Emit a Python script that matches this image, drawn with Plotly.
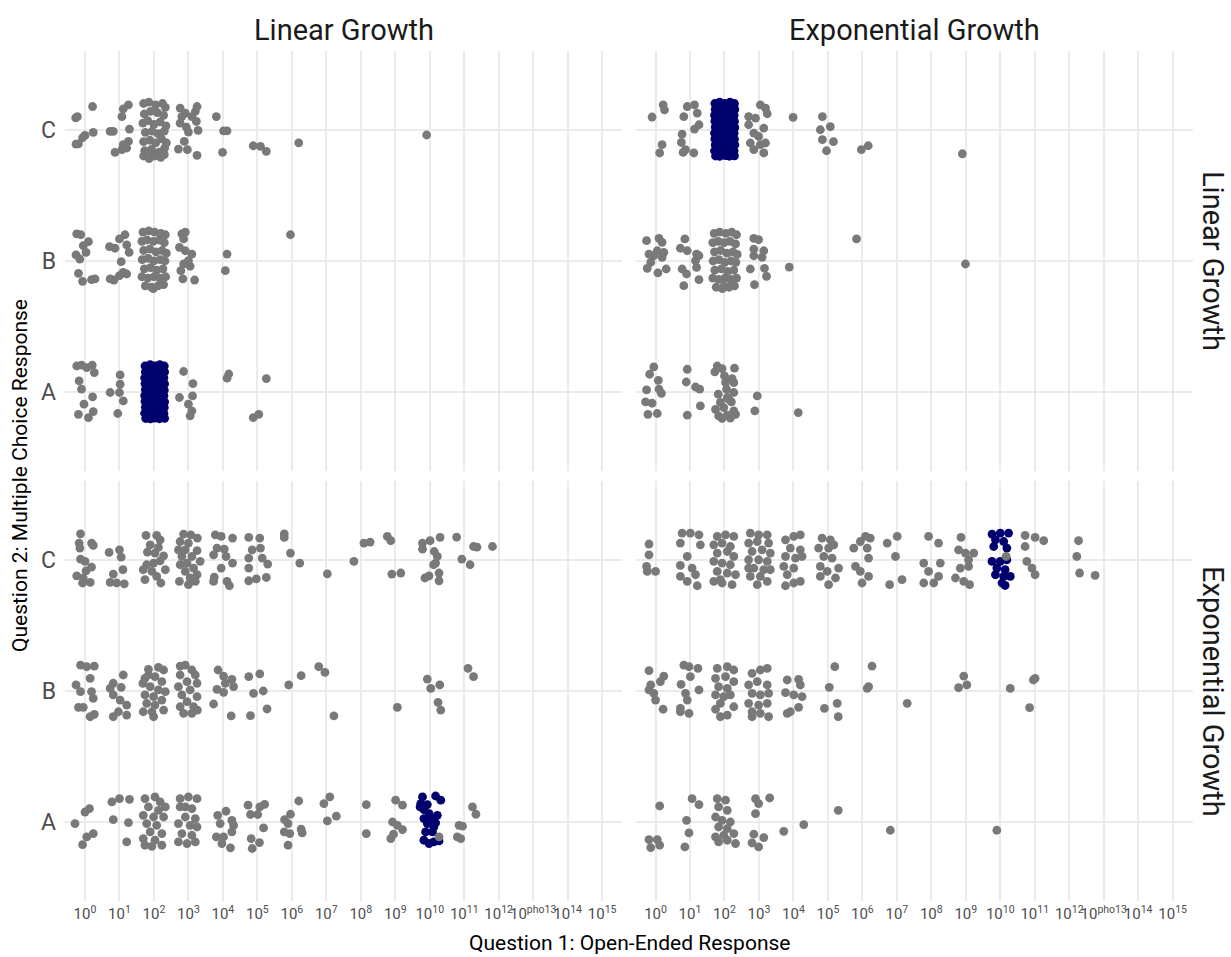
import plotly.graph_objects as go

# ---------------------------------------------------------------------------
# Data: each point is (log10 of the open-ended answer incl. jitter,
#                      multiple-choice position incl. jitter; A=1, B=2, C=3)
# Panels: rows = Question 2 scenario, columns = Question 1 scenario
# ---------------------------------------------------------------------------
categories = ["A", "B", "C"]
category_pos = [1, 2, 3]
exponents = list(range(16))
exponent_labels = ["10<sup>0</sup>", "10<sup>1</sup>", "10<sup>2</sup>", "10<sup>3</sup>",
                   "10<sup>4</sup>", "10<sup>5</sup>", "10<sup>6</sup>", "10<sup>7</sup>",
                   "10<sup>8</sup>", "10<sup>9</sup>", "10<sup>10</sup>", "10<sup>11</sup>",
                   "10<sup>12</sup>", "10<sup>pho13</sup>", "10<sup>14</sup>", "10<sup>15</sup>"]
col_strips = ["Linear Growth", "Exponential Growth"]
row_strips = ["Linear Growth", "Exponential Growth"]

# row Linear Growth, column Linear Growth
ll_other = [
    (-0.27, 3.09), (-0.22, 3.10), (0.22, 3.177), (0.0, 2.957), (-0.07, 2.939), (-0.19, 2.893), (-0.26, 2.89),
    (1.26, 3.19), (1.11, 3.158), (1.07, 3.10), (0.73, 2.987), (0.82, 2.987), (1.29, 3.005), (0.24, 2.98),
    (1.26, 2.911), (1.11, 2.886), (1.21, 2.861), (0.87, 2.827), (1.07, 2.848),
    (1.70, 3.20), (1.85, 3.21), (2.05, 3.19), (2.25, 3.20), (2.33, 3.17),
    (1.72, 3.12), (1.90, 3.14), (2.10, 3.13), (2.28, 3.11),
    (1.68, 3.05), (1.82, 3.07), (2.00, 3.04), (2.18, 3.06), (2.35, 3.03),
    (1.75, 2.98), (1.95, 2.99), (2.12, 2.97), (2.30, 2.99),
    (1.70, 2.91), (1.88, 2.92), (2.05, 2.90), (2.22, 2.93), (2.36, 2.90),
    (1.73, 2.84), (1.93, 2.85), (2.15, 2.83), (2.31, 2.86),
    (1.70, 2.80), (1.86, 2.78), (2.02, 2.80), (2.20, 2.79), (2.30, 2.81), (1.95, 2.82),
    (2.76, 3.165), (2.91, 3.127), (2.81, 3.10), (3.25, 3.177), (3.20, 3.139), (3.10, 3.10), (3.23, 3.063),
    (2.76, 3.05), (2.94, 3.02), (3.0, 2.982), (3.28, 2.995), (2.88, 2.911), (2.71, 2.853), (2.97, 2.848),
    (3.25, 2.805), (3.81, 3.10), (4.02, 2.992), (4.12, 2.992), (3.99, 2.827), (4.88, 2.878), (5.09, 2.873),
    (5.26, 2.835), (6.2, 2.90), (9.91, 2.96),
    (-0.24, 2.206), (-0.12, 2.20), (0.10, 2.147), (-0.05, 2.117), (0.03, 2.066), (-0.26, 2.046), (-0.15, 2.015),
    (-0.19, 1.906), (-0.07, 1.845), (0.19, 1.858), (0.29, 1.863),
    (1.16, 2.20), (1.0, 2.168), (0.71, 2.109), (0.87, 2.097), (1.21, 2.122), (1.28, 2.066), (1.05, 1.995),
    (1.11, 1.914), (1.21, 1.901), (1.0, 1.888), (0.73, 1.863), (0.84, 1.855),
    (1.68, 2.22), (1.85, 2.23), (2.02, 2.22), (2.20, 2.21), (2.33, 2.20),
    (1.65, 2.15), (1.80, 2.16), (1.98, 2.15), (2.15, 2.16), (2.30, 2.14),
    (1.70, 2.08), (1.88, 2.09), (2.06, 2.07), (2.24, 2.08), (2.36, 2.06),
    (1.66, 2.01), (1.83, 2.02), (2.00, 2.00), (2.18, 2.01), (2.32, 2.00),
    (1.72, 1.94), (1.90, 1.95), (2.08, 1.93), (2.26, 1.94),
    (1.65, 1.88), (1.82, 1.87), (2.00, 1.88), (2.17, 1.87), (2.34, 1.88),
    (1.75, 1.81), (1.93, 1.80), (2.12, 1.81), (2.28, 1.82), (1.98, 1.79),
    (2.81, 2.206), (2.91, 2.22), (2.86, 2.168), (2.74, 2.104), (2.91, 2.078), (3.10, 2.053), (3.0, 2.002),
    (2.86, 1.977), (2.78, 1.926), (2.84, 1.863), (3.18, 1.855), (3.05, 1.96),
    (4.12, 2.053), (4.07, 1.926), (5.96, 2.20),
    (-0.24, 1.20), (-0.1, 1.206), (0.05, 1.188), (0.21, 1.206), (0.27, 1.15), (-0.17, 1.086), (-0.1, 1.023),
    (0.22, 0.964), (-0.03, 0.909), (-0.19, 0.832), (0.1, 0.807), (0.24, 0.853),
    (1.02, 1.132), (1.02, 1.061), (0.73, 0.998), (1.0, 0.998), (1.11, 0.934), (0.95, 0.838),
    (2.86, 1.158), (3.13, 1.066), (2.74, 0.96), (3.12, 0.972), (3.0, 0.909), (3.1, 0.858), (3.05, 0.82),
    (4.12, 1.107), (4.17, 1.139), (5.26, 1.104), (4.88, 0.807), (5.04, 0.832),
]
ll_correct = [
    (1.74, 1.20), (1.89, 1.21), (2.03, 1.20), (2.17, 1.21), (2.30, 1.20),
    (1.75, 1.155), (1.88, 1.16), (2.01, 1.15), (2.16, 1.158), (2.31, 1.155),
    (1.73, 1.11), (1.87, 1.105), (2.02, 1.112), (2.18, 1.108), (2.29, 1.11),
    (1.74, 1.065), (1.89, 1.07), (2.04, 1.062), (2.15, 1.068), (2.31, 1.063),
    (1.75, 1.02), (1.88, 1.018), (2.01, 1.024), (2.17, 1.02), (2.30, 1.016),
    (1.73, 0.975), (1.90, 0.978), (2.03, 0.972), (2.16, 0.977), (2.29, 0.974),
    (1.74, 0.93), (1.87, 0.928), (2.02, 0.933), (2.18, 0.93), (2.31, 0.927),
    (1.75, 0.885), (1.89, 0.888), (2.04, 0.882), (2.15, 0.886), (2.30, 0.884),
    (1.73, 0.84), (1.88, 0.842), (2.01, 0.838), (2.17, 0.843), (2.29, 0.84),
    (1.76, 0.80), (1.90, 0.797), (2.03, 0.803), (2.16, 0.798), (2.31, 0.801),
]

# row Linear Growth, column Exponential Growth
le_other = [
    (-0.10, 3.097), (0.22, 3.19), (0.26, 3.152), (0.19, 2.886), (0.12, 2.823),
    (0.92, 3.177), (1.13, 3.19), (1.21, 3.127), (0.82, 3.10), (1.26, 3.038), (1.13, 3.005), (0.77, 2.967),
    (0.75, 2.903), (0.87, 2.848), (1.11, 2.823), (0.80, 2.827),
    (3.04, 3.19), (3.19, 3.165), (3.24, 3.122), (2.70, 3.10), (2.90, 3.089), (2.70, 3.038), (3.14, 3.013),
    (2.85, 2.975), (2.99, 2.949), (2.75, 2.899), (3.04, 2.886), (3.19, 2.899), (2.85, 2.848), (3.14, 2.823),
    (3.99, 3.094), (4.84, 3.10), (5.07, 3.023), (4.78, 3.0), (4.84, 2.924), (5.16, 2.909), (4.96, 2.84),
    (5.97, 2.848), (6.17, 2.878), (8.90, 2.817),
    (-0.26, 2.155), (0.10, 2.173), (0.19, 2.142), (-0.19, 2.053), (-0.05, 2.04), (0.05, 2.078), (0.24, 2.066),
    (0.19, 2.028), (-0.24, 1.944), (-0.14, 1.99), (0.07, 1.909), (0.31, 1.939),
    (0.85, 2.168), (0.72, 2.097), (0.92, 2.078), (1.19, 2.053), (1.26, 2.04), (1.16, 2.002), (1.19, 1.952),
    (0.77, 1.939), (0.90, 1.901), (1.26, 1.858), (0.82, 1.812),
    (1.70, 2.21), (1.86, 2.22), (2.04, 2.21), (2.21, 2.22), (2.35, 2.20),
    (1.66, 2.14), (1.82, 2.15), (1.99, 2.14), (2.16, 2.15), (2.32, 2.13),
    (1.71, 2.07), (1.89, 2.08), (2.07, 2.06), (2.25, 2.07), (2.37, 2.05),
    (1.67, 2.00), (1.84, 2.01), (2.01, 1.99), (2.19, 2.00), (2.33, 1.99),
    (1.72, 1.93), (1.91, 1.94), (2.09, 1.92), (2.27, 1.93),
    (1.66, 1.87), (1.83, 1.86), (2.01, 1.87), (2.18, 1.86), (2.35, 1.87),
    (1.76, 1.80), (1.94, 1.79), (2.13, 1.80), (2.29, 1.81), (1.99, 1.81),
    (2.85, 2.173), (2.99, 2.162), (2.85, 2.091), (3.14, 2.078), (2.85, 2.04), (3.09, 2.028), (2.75, 1.939),
    (3.16, 1.944), (3.22, 1.883), (2.87, 1.82), (3.88, 1.954), (5.83, 2.168), (8.99, 1.977),
    (-0.05, 1.193), (-0.17, 1.137), (0.08, 1.091), (0.10, 1.023), (0.17, 0.992), (-0.26, 1.018),
    (-0.29, 0.926), (-0.10, 0.916), (-0.22, 0.832), (0.05, 0.838),
    (0.92, 1.175), (0.89, 1.078), (1.16, 1.04), (1.28, 1.023), (1.30, 0.896), (0.92, 0.825),
    (1.79, 1.2), (1.93, 1.18), (1.72, 1.155), (2.29, 1.183), (2.22, 1.104), (2.03, 1.074), (2.27, 1.074),
    (2.06, 1.023), (2.27, 0.998), (1.82, 0.985), (2.08, 0.96), (1.88, 0.922), (2.20, 0.926), (1.74, 0.87),
    (1.98, 0.883), (2.27, 0.858), (1.83, 0.82), (2.08, 0.825), (2.32, 0.832), (1.93, 0.80), (2.17, 0.802),
    (2.0, 1.124), (2.12, 0.947), (2.95, 0.972), (2.88, 0.858), (4.14, 0.845),
]
le_correct = [
    (1.72, 3.20), (1.86, 3.21), (2.01, 3.20), (2.16, 3.21), (2.29, 3.20),
    (1.73, 3.155), (1.87, 3.16), (2.00, 3.15), (2.15, 3.158), (2.30, 3.155),
    (1.71, 3.11), (1.88, 3.105), (2.02, 3.112), (2.14, 3.108), (2.28, 3.11),
    (1.72, 3.065), (1.86, 3.07), (2.01, 3.062), (2.16, 3.068), (2.29, 3.063),
    (1.73, 3.02), (1.87, 3.018), (2.03, 3.024), (2.15, 3.02), (2.30, 3.016),
    (1.71, 2.975), (1.88, 2.978), (2.00, 2.972), (2.14, 2.977), (2.28, 2.974),
    (1.72, 2.93), (1.86, 2.928), (2.02, 2.933), (2.16, 2.93), (2.29, 2.927),
    (1.73, 2.885), (1.87, 2.888), (2.01, 2.882), (2.15, 2.886), (2.30, 2.884),
    (1.71, 2.84), (1.88, 2.842), (2.00, 2.838), (2.16, 2.843), (2.28, 2.84),
    (1.74, 2.80), (1.86, 2.797), (2.03, 2.803), (2.14, 2.798), (2.29, 2.801),
]

# row Exponential Growth, column Linear Growth
el_other = [
    (-0.13, 3.198), (-0.17, 3.127), (-0.15, 3.089), (0.19, 3.127), (0.24, 3.109), (-0.13, 3.005), (0.0, 2.987),
    (0.19, 2.944), (0.03, 2.916), (-0.24, 2.878), (-0.05, 2.861), (-0.07, 2.823), (0.15, 2.827),
    (0.70, 3.056), (1.0, 3.076), (1.05, 3.02), (1.10, 2.924), (0.82, 2.891), (0.73, 2.827), (0.92, 2.823),
    (1.14, 2.817),
    (1.77, 3.185), (2.08, 3.185), (2.18, 3.152), (1.89, 3.114), (2.13, 3.094), (1.81, 3.059), (2.03, 3.051),
    (2.28, 3.03), (1.79, 2.962), (1.99, 2.975), (2.18, 2.992), (1.69, 2.924), (1.94, 2.911), (2.33, 2.924),
    (1.74, 2.848), (2.20, 2.823), (2.08, 2.873),
    (2.86, 3.196), (3.07, 3.19), (3.26, 3.165), (2.76, 3.139), (3.0, 3.127), (2.71, 3.076), (2.91, 3.076),
    (3.25, 3.069), (2.81, 3.025), (3.10, 3.025), (3.34, 2.987), (2.96, 2.975), (2.76, 2.962), (3.15, 2.937),
    (2.91, 2.911), (3.25, 2.886), (2.74, 2.835), (3.0, 2.81), (3.2, 2.835), (3.05, 2.861),
    (3.78, 3.19), (3.95, 3.178), (4.28, 3.165), (3.83, 3.089), (4.04, 3.081), (3.73, 3.038), (4.09, 3.025),
    (4.28, 2.975), (3.95, 2.937), (3.75, 2.868), (3.73, 2.835), (4.12, 2.835), (4.19, 2.802),
    (4.75, 3.17), (5.07, 3.165), (5.09, 3.089), (4.85, 3.076), (4.75, 3.013), (5.14, 3.013), (5.30, 2.967),
    (4.75, 2.937), (4.75, 2.84), (4.97, 2.855), (5.26, 2.865),
    (5.78, 3.198), (5.78, 3.17), (5.96, 3.051), (6.23, 2.975), (7.03, 2.893), (7.80, 2.987), (8.09, 3.127),
    (8.27, 3.135), (8.77, 3.178), (8.87, 3.145), (8.9, 2.891), (9.16, 2.899),
    (9.79, 3.127), (10.01, 3.145), (10.3, 3.17), (9.79, 3.081), (10.13, 3.063), (10.22, 3.025),
    (10.17, 2.975), (10.11, 2.962), (9.86, 2.861), (9.98, 2.878), (10.27, 2.899), (10.27, 2.84),
    (10.78, 3.173), (10.93, 3.005), (11.17, 2.962), (11.27, 3.101), (11.37, 3.097), (11.82, 3.101),
    (-0.13, 2.198), (0.05, 2.185), (0.27, 2.19), (0.15, 2.097), (-0.26, 2.046), (-0.13, 1.995), (0.19, 1.995),
    (0.24, 1.944), (-0.19, 1.876), (-0.05, 1.876), (0.15, 1.804), (0.27, 1.822),
    (1.11, 2.122), (0.82, 2.059), (0.73, 2.02), (1.05, 2.028), (0.82, 1.97), (1.02, 1.931), (1.21, 1.893),
    (0.97, 1.842), (0.82, 1.804), (1.21, 1.817),
    (1.84, 2.165), (2.13, 2.18), (2.28, 2.16), (1.74, 2.097), (2.03, 2.109), (2.23, 2.071), (1.68, 2.059),
    (1.89, 2.033), (2.13, 2.008), (2.33, 1.995), (1.74, 1.97), (1.99, 1.957), (2.23, 1.931), (1.79, 1.906),
    (2.03, 1.893), (1.69, 1.842), (1.94, 1.842), (2.28, 1.855), (1.99, 1.804), (1.84, 2.122),
    (2.76, 2.19), (2.91, 2.198), (3.10, 2.16), (2.76, 2.122), (3.2, 2.122), (2.96, 2.071), (3.25, 2.059),
    (2.71, 2.033), (3.05, 2.008), (2.81, 1.97), (3.25, 1.957), (2.96, 1.919), (2.76, 1.88), (3.15, 1.88),
    (2.86, 1.83), (3.10, 1.83), (3.26, 1.855),
    (3.86, 2.16), (4.02, 2.114), (4.26, 2.089), (4.07, 2.059), (4.31, 2.033), (3.83, 2.013), (4.02, 1.99),
    (3.73, 1.901), (4.24, 1.81),
    (4.75, 2.109), (5.07, 2.13), (4.89, 1.982), (5.17, 2.0), (5.28, 1.863), (4.80, 1.812),
    (5.91, 2.046), (6.27, 2.117), (6.78, 2.185), (6.96, 2.142), (7.22, 1.81), (9.06, 1.876), (9.93, 2.091),
    (10.03, 2.02), (10.29, 2.046), (10.24, 1.914), (10.32, 1.855), (11.11, 2.173), (11.27, 2.109),
    (-0.29, 0.99), (0.0, 1.078), (0.13, 1.104), (0.24, 0.914), (0.05, 0.888), (-0.07, 0.83),
    (0.78, 1.155), (1.0, 1.18), (1.29, 1.175), (0.82, 1.02), (1.26, 0.997), (1.21, 0.85),
    (1.74, 1.18), (2.03, 1.193), (2.18, 1.155), (1.84, 1.117), (2.13, 1.091), (1.69, 1.053), (1.99, 1.04),
    (2.28, 1.04), (1.79, 0.99), (2.08, 0.977), (1.89, 0.926), (2.23, 0.914), (1.69, 0.876), (2.03, 0.863),
    (1.74, 0.825), (1.94, 0.817), (2.23, 0.825), (2.33, 1.117),
    (2.76, 1.18), (3.0, 1.193), (3.25, 1.18), (2.76, 1.117), (3.10, 1.104), (2.91, 1.04), (3.2, 1.028),
    (2.71, 0.99), (3.05, 0.977), (3.25, 0.964), (2.81, 0.914), (3.10, 0.901), (2.71, 0.85), (2.96, 0.838),
    (3.2, 0.85), (2.91, 1.117),
    (3.85, 1.053), (4.09, 1.084), (3.92, 0.99), (4.26, 1.015), (4.31, 0.977), (3.81, 0.888), (4.02, 0.888),
    (3.97, 0.838), (4.22, 0.805), (4.26, 0.926),
    (4.73, 1.13), (5.07, 1.117), (5.21, 1.137), (4.80, 1.059), (5.01, 1.059), (5.18, 0.957), (4.82, 0.876),
    (4.85, 0.80), (5.06, 0.845),
    (5.96, 1.061), (5.79, 1.02), (5.89, 0.99), (5.78, 0.926), (5.94, 0.914), (5.89, 0.825), (6.2, 1.162),
    (6.27, 0.947), (6.30, 0.919), (6.93, 1.142), (7.10, 1.193), (7.03, 1.01), (7.29, 1.046), (8.16, 1.135),
    (8.16, 0.914), (9.01, 1.168), (9.21, 1.13), (8.92, 1.002), (9.06, 0.977), (9.21, 0.944), (8.95, 0.909),
    (8.87, 0.876), (10.85, 0.977), (10.95, 0.97), (10.80, 0.888), (10.9, 0.876), (11.24, 1.117),
    (11.34, 1.061),
]
el_correct = [
    (9.79, 1.193), (10.17, 1.2), (10.32, 1.168), (9.74, 1.142), (9.83, 1.097), (9.98, 1.066), (10.22, 1.053),
    (9.83, 1.028), (9.93, 0.99), (10.17, 0.995), (9.88, 0.926), (10.08, 0.926), (10.12, 0.964),
    (9.83, 0.863), (9.98, 0.838), (10.12, 0.85), (10.27, 0.858), (9.72, 1.117), (9.93, 1.135),
    (10.03, 1.028),
]
el_late = [(10.27, 0.888)]

# row Exponential Growth, column Exponential Growth
ee_other = [
    (-0.19, 3.12), (-0.19, 3.038), (-0.26, 2.949), (-0.24, 2.911), (0.0, 2.911),
    (0.77, 3.203), (1.01, 3.203), (1.26, 3.19), (0.72, 3.127), (1.30, 3.114), (0.92, 3.025), (0.72, 2.957),
    (1.06, 2.937), (0.72, 2.873), (0.92, 2.835), (1.16, 2.886), (1.21, 2.802),
    (1.79, 3.178), (2.03, 3.19), (2.27, 3.178), (1.69, 3.114), (1.93, 3.127), (2.17, 3.101), (1.79, 3.051),
    (2.08, 3.063), (2.27, 3.025), (1.69, 2.987), (1.93, 2.975), (2.17, 2.962), (1.79, 2.911), (2.08, 2.899),
    (2.32, 2.886), (1.69, 2.835), (1.93, 2.823), (2.22, 2.81), (1.88, 2.848),
    (2.75, 3.203), (2.99, 3.19), (3.24, 3.19), (2.70, 3.127), (2.95, 3.139), (3.28, 3.127), (2.80, 3.063),
    (3.09, 3.076), (3.33, 3.051), (2.70, 3.0), (2.99, 3.0), (3.24, 2.987), (2.85, 2.937), (3.14, 2.924),
    (3.33, 2.924), (2.75, 2.873), (3.04, 2.873), (2.95, 2.81), (3.24, 2.835), (2.70, 2.937),
    (3.77, 3.152), (4.01, 3.178), (4.20, 3.19), (3.91, 3.089), (4.20, 3.076), (3.77, 3.025), (4.06, 3.013),
    (4.25, 3.025), (3.72, 2.949), (4.01, 2.937), (3.82, 2.886), (4.20, 2.835), (3.77, 2.802), (4.01, 2.823),
    (4.83, 3.165), (5.07, 3.152), (4.73, 3.089), (5.02, 3.089), (4.88, 3.025), (5.12, 3.013), (4.78, 2.949),
    (5.31, 2.937), (4.98, 2.911), (4.78, 2.873), (5.22, 2.861), (5.02, 2.81), (5.17, 3.114),
    (6.09, 3.178), (6.23, 3.165), (5.94, 3.139), (5.75, 3.089), (6.14, 3.089), (6.18, 3.013), (5.80, 2.949),
    (5.94, 2.911), (6.18, 2.873), (5.99, 2.823),
    (7.01, 3.178), (6.72, 3.127), (6.96, 3.025), (7.15, 2.848), (6.79, 2.81),
    (7.92, 3.178), (8.21, 3.127), (7.78, 2.975), (8.26, 2.975), (7.92, 2.911), (8.21, 2.873), (7.78, 2.823),
    (8.07, 2.823),
    (8.86, 3.17), (8.79, 3.076), (8.99, 3.051), (9.23, 3.051), (9.08, 3.0), (8.84, 2.937), (9.08, 2.949),
    (8.70, 2.861), (8.94, 2.835), (9.11, 2.81),
    (10.72, 3.185), (11.01, 3.17), (11.26, 3.145), (10.72, 3.101), (10.77, 2.987), (10.92, 2.937),
    (11.01, 2.886), (12.27, 3.145), (12.22, 3.025), (12.30, 2.899), (12.75, 2.881),
    (-0.19, 2.155), (0.24, 2.114), (0.14, 2.071), (-0.14, 2.046), (-0.19, 2.008), (-0.05, 1.982), (0.0, 1.931),
    (0.22, 1.861),
    (0.82, 2.198), (0.97, 2.185), (1.23, 2.173), (1.01, 2.109), (0.74, 2.051), (1.26, 2.008), (0.87, 1.982),
    (0.92, 1.931), (0.72, 1.868), (0.97, 1.83), (0.72, 1.842),
    (1.79, 2.173), (2.08, 2.185), (2.27, 2.16), (1.74, 2.097), (2.03, 2.109), (2.27, 2.071), (1.83, 2.033),
    (2.08, 2.02), (1.74, 1.97), (2.17, 1.97), (1.88, 1.906), (2.27, 1.88), (1.74, 1.861), (1.88, 1.804),
    (2.08, 1.817), (1.98, 1.957),
    (2.80, 2.135), (3.04, 2.16), (3.24, 2.173), (2.70, 2.046), (2.95, 2.071), (3.24, 2.046), (2.80, 1.982),
    (3.04, 1.97), (3.28, 1.982), (2.70, 1.906), (2.99, 1.893), (3.24, 1.906), (2.80, 1.842), (3.04, 1.83),
    (3.28, 1.804), (2.80, 1.804),
    (3.82, 2.084), (4.15, 2.089), (4.20, 2.046), (3.77, 1.987), (4.01, 1.97), (4.25, 1.957), (4.15, 1.876),
    (3.82, 1.83), (3.91, 1.842),
    (5.20, 2.185), (5.04, 2.028), (4.90, 1.868), (5.27, 1.906), (5.30, 1.804), (6.28, 2.19), (6.18, 2.033),
    (6.14, 2.02), (7.30, 1.906), (8.94, 2.114), (8.79, 2.025), (9.03, 2.046), (10.29, 2.02), (11.01, 2.097),
    (10.96, 2.084), (10.85, 1.873),
    (0.12, 1.124), (-0.19, 0.868), (0.05, 0.868), (-0.14, 0.807), (0.12, 0.825),
    (1.06, 1.18), (1.26, 1.135), (0.90, 1.015), (0.97, 0.919), (0.85, 0.812),
    (1.79, 1.18), (2.03, 1.168), (1.83, 1.117), (2.08, 1.091), (1.74, 1.04), (1.93, 1.015), (2.17, 1.002),
    (1.83, 0.964), (2.08, 0.952), (1.74, 0.888), (1.98, 0.901), (2.27, 0.914), (1.83, 0.85), (2.08, 0.863),
    (2.32, 0.838),
    (2.90, 1.18), (3.31, 1.185), (2.99, 1.142), (2.90, 1.066), (2.85, 0.909), (3.14, 0.883), (2.80, 0.842),
    (2.99, 0.812), (3.72, 0.931), (4.30, 0.982), (5.30, 1.091), (6.81, 0.939), (9.90, 0.939),
]
ee_correct = [
    (9.76, 3.196), (10.0, 3.203), (10.24, 3.203), (9.86, 3.152), (10.10, 3.139), (10.19, 3.089),
    (9.81, 3.101), (9.76, 2.987), (10.0, 2.987), (10.19, 3.0), (9.90, 2.937), (10.14, 2.924),
    (9.86, 2.886), (10.10, 2.873), (10.29, 2.873), (10.05, 2.823), (10.14, 2.804),
]
ee_late = [(10.17, 3.025)]

# ---------------------------------------------------------------------------
GRAY = "#797979"
NAVY = "#00006e"
GRID = "#EBEBEB"
FONT = "Roboto"
X_RANGE = [-0.58, 15.59]
Y_RANGE = [0.4, 3.6]

panels = [
    # (axis suffix, point groups drawn in order)
    ("", [(ll_other, GRAY), (ll_correct, NAVY)]),
    ("2", [(le_other, GRAY), (le_correct, NAVY)]),
    ("3", [(el_other, GRAY), (el_correct, NAVY), (el_late, GRAY)]),
    ("4", [(ee_other, GRAY), (ee_correct, NAVY), (ee_late, GRAY)]),
]

fig = go.Figure()
for suffix, groups in panels:
    for pts, color in groups:
        fig.add_trace(go.Scatter(
            x=[p[0] for p in pts], y=[p[1] for p in pts],
            mode="markers", xaxis="x" + suffix, yaxis="y" + suffix,
            marker=dict(size=8.8, color=color, line=dict(width=0)),
            showlegend=False, hoverinfo="skip",
        ))

left_dom = [0.0, 0.4942]
right_dom = [0.5058, 1.0]
top_dom = [0.5059, 1.0]
bot_dom = [0.0, 0.4941]


def xax(dom, anchor, labels):
    return dict(domain=dom, anchor=anchor, range=X_RANGE, tickvals=exponents,
                ticktext=exponent_labels, showticklabels=labels, tickangle=0, showgrid=True,
                gridcolor=GRID, gridwidth=1.5, zeroline=False, showline=False, ticks="",
                ticklabelstandoff=2,
                tickfont=dict(family=FONT, size=15, color="#4D4D4D"))


def yax(dom, anchor, labels):
    return dict(domain=dom, anchor=anchor, range=Y_RANGE, tickvals=category_pos,
                ticktext=categories, showticklabels=labels, showgrid=True,
                gridcolor=GRID, gridwidth=1.5, zeroline=False, showline=False, ticks="",
                ticklabelstandoff=8,
                tickfont=dict(family=FONT, size=23, color="#4D4D4D"))


fig.update_layout(
    width=1231, height=957,
    margin=dict(l=65, r=38, t=51, b=56),
    paper_bgcolor="white", plot_bgcolor="white",
    font=dict(family=FONT, color="black"),
    xaxis=xax(left_dom, "y", False),
    xaxis2=xax(right_dom, "y2", False),
    xaxis3=xax(left_dom, "y3", True),
    xaxis4=xax(right_dom, "y4", True),
    yaxis=yax(top_dom, "x", True),
    yaxis2=yax(top_dom, "x2", False),
    yaxis3=yax(bot_dom, "x3", True),
    yaxis4=yax(bot_dom, "x4", False),
)

annotations = []
for dom, label in zip([left_dom, right_dom], col_strips):
    annotations.append(dict(text=label, x=(dom[0] + dom[1]) / 2, y=1, xref="paper", yref="paper",
                            yshift=21, showarrow=False, xanchor="center", yanchor="middle",
                            font=dict(family=FONT, size=29, color="#1A1A1A")))
for dom, label in zip([top_dom, bot_dom], row_strips):
    annotations.append(dict(text=label, x=1, y=(dom[0] + dom[1]) / 2, xref="paper", yref="paper",
                            xshift=20, textangle=90, showarrow=False, xanchor="center",
                            yanchor="middle",
                            font=dict(family=FONT, size=29, color="#1A1A1A")))
annotations.append(dict(text="Question 1: Open-Ended Response", x=0.5, y=0, xref="paper", yref="paper",
                        yshift=-42, showarrow=False, xanchor="center", yanchor="middle",
                        font=dict(family=FONT, size=21, color="black")))
annotations.append(dict(text="Question 2: Multiple Choice Response", x=0, y=0.5, xref="paper",
                        yref="paper", xshift=-45, textangle=-90, showarrow=False, xanchor="center",
                        yanchor="middle",
                        font=dict(family=FONT, size=21, color="black")))
fig.update_layout(annotations=annotations)

fig.write_html("out.html")
